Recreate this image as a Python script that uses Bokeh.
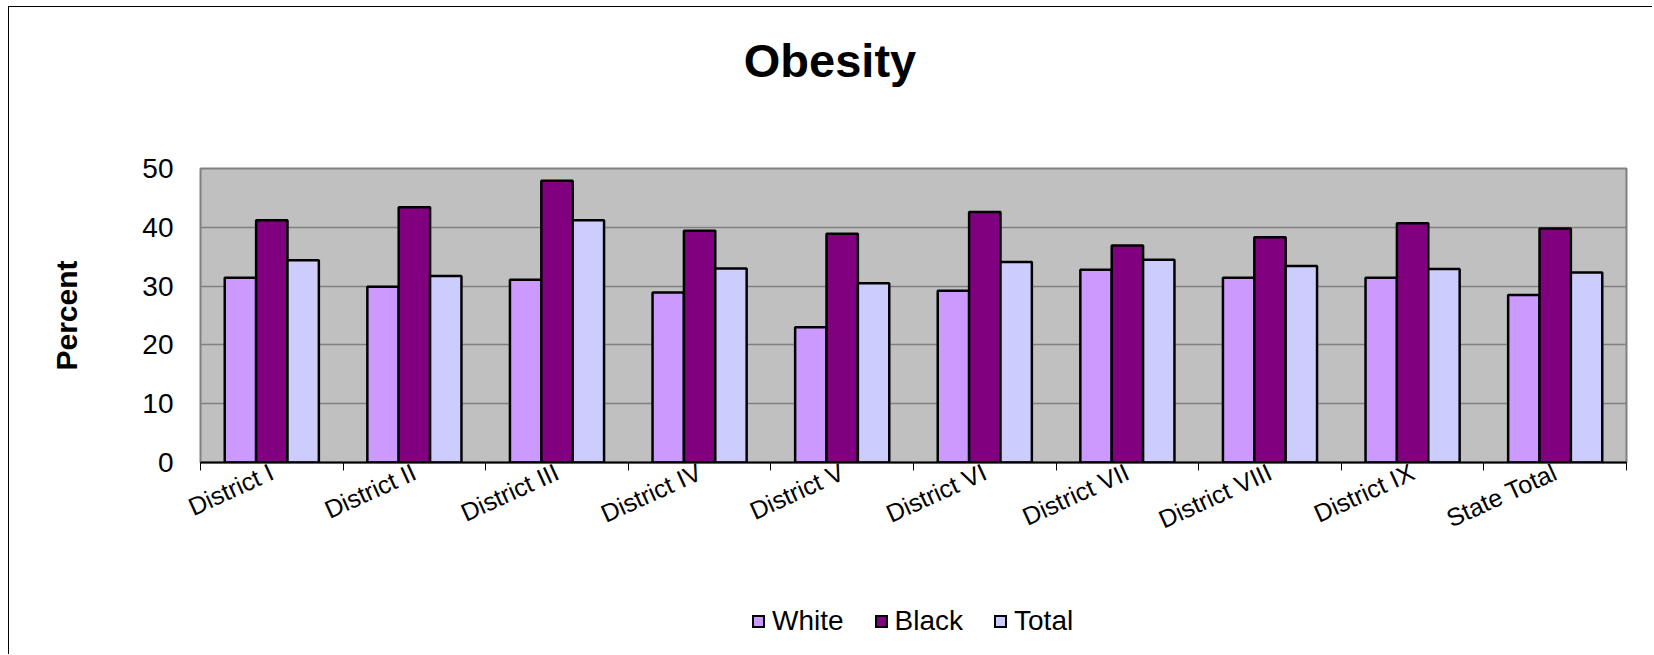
from bokeh.plotting import figure
from bokeh.models import (ColumnDataSource, Range1d, FixedTicker, Div)
from bokeh.layouts import column
from bokeh.transform import dodge
from bokeh.embed import file_html
from bokeh.resources import INLINE

# ---- data ----
categories = ["District I", "District II", "District III", "District IV", "District V",
              "District VI", "District VII", "District VIII", "District IX", "State Total"]
white = [31.4, 29.9, 31.1, 28.9, 23.0, 29.2, 32.8, 31.4, 31.4, 28.5]
black = [41.2, 43.4, 47.9, 39.4, 38.9, 42.6, 36.9, 38.3, 40.7, 39.8]
total = [34.4, 31.7, 41.2, 33.0, 30.5, 34.1, 34.5, 33.4, 32.9, 32.3]
series_names = ["White", "Black", "Total"]
series_colors = ["#CC99FF", "#800080", "#CCCCFF"]
y_ticks = [0, 10, 20, 30, 40, 50]
title_text = "Obesity"
y_title = "Percent"

FONT = "Liberation Sans"
W = 1652
TITLE_H = 100
PLOT_H = 462
LEGEND_H = 92

pos = [i + 0.5 for i in range(len(categories))]
source = ColumnDataSource(dict(x=pos, cat=categories, White=white, Black=black, Total=total))

# ---- title (HTML text) ----
title_div = Div(text=('<div style="box-sizing:border-box;width:1648px;padding-left:12px;padding-top:37px;'
                      'text-align:center;font-family:\'Liberation Sans\';font-size:47px;'
                      'font-weight:bold;line-height:47px;color:#000;white-space:nowrap">%s</div>'
                      % title_text),
                width=W, height=TITLE_H, margin=0)

# ---- main chart ----
p = figure(width=W, height=PLOT_H, output_backend="svg", toolbar_location=None,
           x_range=Range1d(0, len(categories)), y_range=Range1d(0, 50),
           min_border_left=200, min_border_right=W - 1626, min_border_top=168 - TITLE_H,
           min_border_bottom=100)

p.background_fill_color = "#C0C0C0"
p.border_fill_alpha = 0
p.outline_line_color = "#808080"
p.outline_line_width = 2

bw = 0.22
offsets = [-0.22, 0.0, 0.22]
for name, col, off in zip(series_names, series_colors, offsets):
    p.vbar(x=dodge("x", off, range=p.x_range), top=name, width=bw, bottom=0,
           source=source, fill_color=col, line_color="black", line_width=2.5)

# grid
p.xgrid.visible = False
p.ygrid.grid_line_color = "#808080"
p.ygrid.grid_line_width = 1.5
p.ygrid.ticker = FixedTicker(ticks=y_ticks)

# y axis
ya = p.yaxis[0]
ya.ticker = FixedTicker(ticks=y_ticks)
ya.axis_line_color = None
ya.major_tick_line_color = None
ya.minor_tick_line_color = None
ya.major_tick_out = 0
ya.major_tick_in = 0
ya.major_label_standoff = 27
ya.major_label_text_font = FONT
ya.major_label_text_font_size = "28px"
ya.major_label_text_color = "black"
ya.axis_label = y_title
ya.axis_label_text_font = FONT
ya.axis_label_text_font_size = "30px"
ya.axis_label_text_font_style = "bold"
ya.axis_label_text_color = "black"
ya.axis_label_standoff = 56

# x axis
xa = p.xaxis[0]
xa.ticker = FixedTicker(ticks=pos, minor_ticks=list(range(len(categories) + 1)))
xa.major_label_overrides = {x: c for x, c in zip(pos, categories)}
xa.axis_line_color = "black"
xa.axis_line_width = 2
xa.major_tick_line_color = None
xa.major_tick_out = 0
xa.major_tick_in = 0
xa.minor_tick_line_color = "black"
xa.minor_tick_line_width = 1
xa.minor_tick_out = 8
xa.minor_tick_in = 0
xa.major_label_orientation = 0.4276
xa.major_label_standoff = 0
xa.major_label_text_font = FONT
xa.major_label_text_font_size = "25px"
xa.major_label_text_color = "black"

# ---- legend (HTML, drawn from the series lists) ----
items_html = "".join(
    '<span style="display:inline-block;width:13px;height:13px;border:2px solid #000;'
    'background:%s;margin-right:7px"></span><span style="margin-right:31px">%s</span>' % (c, n)
    for n, c in zip(series_names, series_colors))
legend_div = Div(text=('<div style="display:flex;align-items:center;padding-top:45px;padding-left:752px;'
                       'font-family:\'Liberation Sans\';font-size:28px;line-height:28px;color:#000;'
                       'white-space:nowrap">%s</div>' % items_html),
                 width=W, height=LEGEND_H, margin=0)

layout = column(title_div, p, legend_div, spacing=0)
layout.styles = {"background-image": "linear-gradient(#000, #000), linear-gradient(#000, #000)",
                 "background-size": "1px 100%, 100% 1px",
                 "background-position": "8px 6px, 8px 6px",
                 "background-repeat": "no-repeat"}

open("out.html", "w").write(file_html(layout, INLINE))
